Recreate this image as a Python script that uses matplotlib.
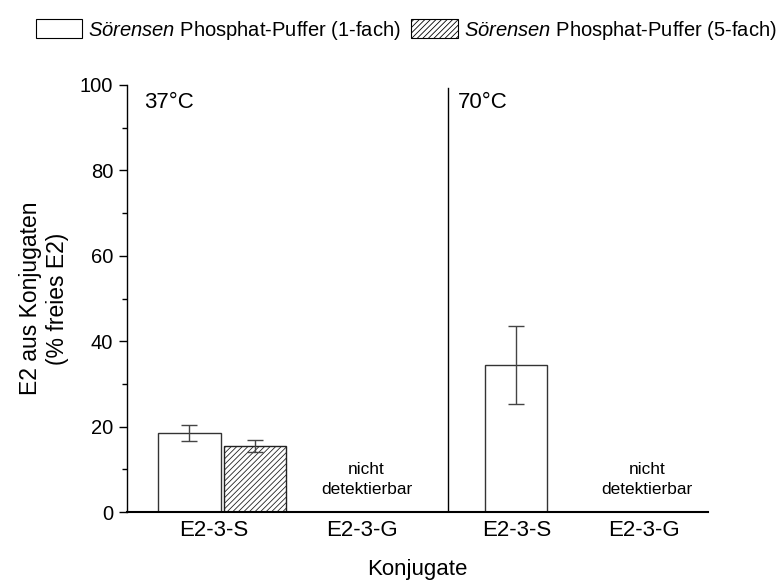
import matplotlib.pyplot as plt
from matplotlib.patches import Patch

plt.rcParams['font.family'] = ['Liberation Sans', 'DejaVu Sans']
plt.rcParams['mathtext.fontset'] = 'custom'
plt.rcParams['mathtext.rm'] = 'Liberation Sans'
plt.rcParams['mathtext.it'] = 'Liberation Sans:italic'
plt.rcParams['hatch.linewidth'] = 0.6

# data
categories = ["E2-3-S", "E2-3-G", "E2-3-S", "E2-3-G"]
cat_pos = [0.6, 1.62, 2.68, 3.56]
bar1_pos = [0.43, 2.68]          # 1-fach bars (37 C, 70 C)
bar1_val = [18.5, 34.4]
bar1_err = [1.9, 9.2]
bar5_pos = [0.88]                # 5-fach bar (37 C)
bar5_val = [15.5]
bar5_err = [1.35]
nd_pos = [1.65, 3.58]
temps = ["37°C", "70°C"]
temp_pos = [0.12, 2.28]
divider = 2.21
width = 0.43

fig = plt.figure(figsize=(7.82, 5.81), dpi=100)
ax = fig.add_axes([127 / 782, 1 - 512 / 581, 581 / 782, 427 / 581])

ax.bar(bar1_pos, bar1_val, width, color="white", edgecolor="#333333", linewidth=1.0)
ax.errorbar(bar1_pos, bar1_val, yerr=bar1_err, fmt="none", ecolor="#444444",
            elinewidth=1.0, capsize=6, capthick=1.0)
ax.bar(bar5_pos, bar5_val, width, color="white", edgecolor="#222222", linewidth=1.0, hatch="//////")
ax.errorbar(bar5_pos, bar5_val, yerr=bar5_err, fmt="none", ecolor="#444444",
            elinewidth=1.0, capsize=6, capthick=1.0)

for x in nd_pos:
    ax.text(x, 3.5, "nicht\ndetektierbar", ha="center", va="bottom", fontsize=12.4,
            linespacing=1.45)
for x, t in zip(temp_pos, temps):
    ax.text(x, 95.8, t, ha="left", va="center", fontsize=16)

ax.axvline(divider, ymin=0, ymax=0.993, color="black", linewidth=1.0)

ax.set_xlim(0, 4.0)
ax.set_ylim(0, 100)
ax.set_yticks([0, 20, 40, 60, 80, 100])
ax.set_yticks([10, 30, 50, 70, 90], minor=True)
ax.set_xticks(cat_pos)
ax.set_xticklabels(categories, fontsize=16)
ax.tick_params(axis="x", length=0, pad=6)
ax.tick_params(axis="y", which="major", length=6, width=1, labelsize=14.5, direction="out", pad=4)
ax.tick_params(axis="y", which="minor", length=3.5, width=1, direction="out")
for s in ["top", "right"]:
    ax.spines[s].set_visible(False)
ax.spines["left"].set_linewidth(1.0)
ax.spines["bottom"].set_linewidth(1.5)

ax.set_xlabel("Konjugate", fontsize=16, labelpad=13)
ax.set_ylabel("E2 aus Konjugaten\n(% freies E2)", fontsize=16.5, labelpad=8)

handles = [Patch(facecolor="white", edgecolor="black", linewidth=0.8),
           Patch(facecolor="white", edgecolor="black", linewidth=0.8, hatch="//////")]
labels = [r"$\it{Sörensen}$ Phosphat-Puffer (1-fach)", r"$\it{Sörensen}$ Phosphat-Puffer (5-fach)"]
fig.legend(handles, labels, loc="center left", bbox_to_anchor=(26 / 782, 1 - 30 / 581),
           ncol=2, frameon=False, fontsize=14.5, handlelength=2.3, handleheight=1.1,
           handletextpad=0.3, columnspacing=0.5, borderpad=0)

fig.savefig("out.png", dpi=100)
